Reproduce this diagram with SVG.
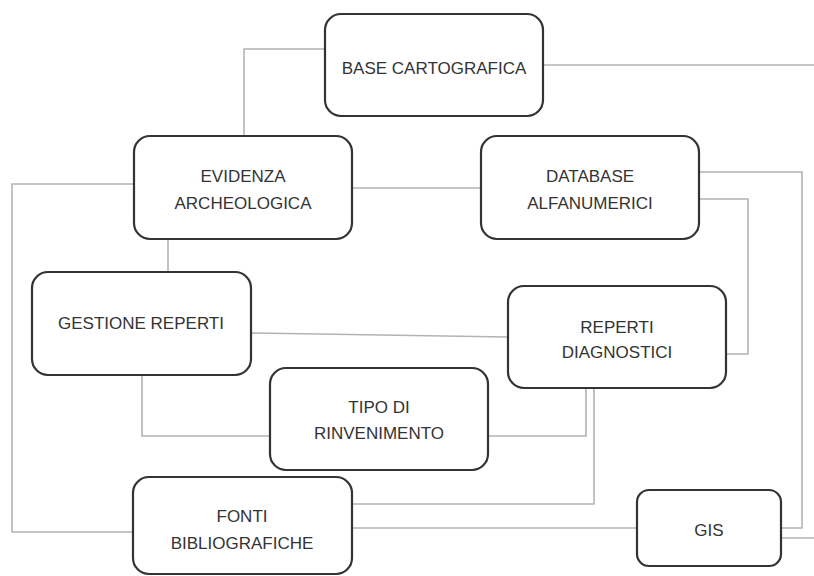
<svg xmlns="http://www.w3.org/2000/svg" width="814" height="576" viewBox="0 0 814 576">
<style>
.box{fill:#fff;stroke:#333;stroke-width:2.2}
.ln{fill:none;stroke:#b3b3b3;stroke-width:1.6}
text{font-family:"Liberation Sans",Arial,sans-serif;font-size:17px;fill:#333;text-anchor:middle;dominant-baseline:central}
</style>
<rect width="814" height="576" fill="#fff"/>
<g id="connectors">
<polyline class="ln" points="325,49 244,49 244,136"/>
<polyline class="ln" points="543,65 814,65"/>
<polyline class="ln" points="134,184 12,184 12,532 133,532"/>
<polyline class="ln" points="352,188 481,188"/>
<polyline class="ln" points="168,239 168,272"/>
<polyline class="ln" points="699,172 802,172 802,528 781,528"/>
<polyline class="ln" points="699,199 748,199 748,354 726,354"/>
<polyline class="ln" points="251,333 508,337"/>
<polyline class="ln" points="142,375 142,436 270,436"/>
<polyline class="ln" points="488,436 586,436 586,389"/>
<polyline class="ln" points="594,389 594,504 352,504"/>
<polyline class="ln" points="352,528 637,528"/>
<polyline class="ln" points="781,538 814,538"/>
</g>
<g id="base-cartografica">
<rect class="box" x="325" y="14" width="218" height="102" rx="16"/>
<text x="434" y="68">BASE CARTOGRAFICA</text>
</g>
<g id="evidenza-archeologica">
<rect class="box" x="134" y="136" width="218" height="103" rx="16"/>
<text x="243" y="176">EVIDENZA</text>
<text x="243" y="203">ARCHEOLOGICA</text>
</g>
<g id="database-alfanumerici">
<rect class="box" x="481" y="136" width="218" height="103" rx="16"/>
<text x="590" y="176">DATABASE</text>
<text x="590" y="203">ALFANUMERICI</text>
</g>
<g id="gestione-reperti">
<rect class="box" x="32" y="272" width="219" height="103" rx="16"/>
<text x="141" y="323">GESTIONE REPERTI</text>
</g>
<g id="reperti-diagnostici">
<rect class="box" x="508" y="286" width="218" height="102" rx="16"/>
<text x="617" y="327">REPERTI</text>
<text x="617" y="352">DIAGNOSTICI</text>
</g>
<g id="tipo-di-rinvenimento">
<rect class="box" x="270" y="368" width="218" height="102" rx="16"/>
<text x="379" y="407">TIPO DI</text>
<text x="379" y="433">RINVENIMENTO</text>
</g>
<g id="fonti-bibliografiche">
<rect class="box" x="133" y="477" width="219" height="97" rx="16"/>
<text x="242" y="516">FONTI</text>
<text x="242" y="543">BIBLIOGRAFICHE</text>
</g>
<g id="gis">
<rect class="box" x="637" y="490" width="144" height="76" rx="12"/>
<text x="709" y="530">GIS</text>
</g>
</svg>
